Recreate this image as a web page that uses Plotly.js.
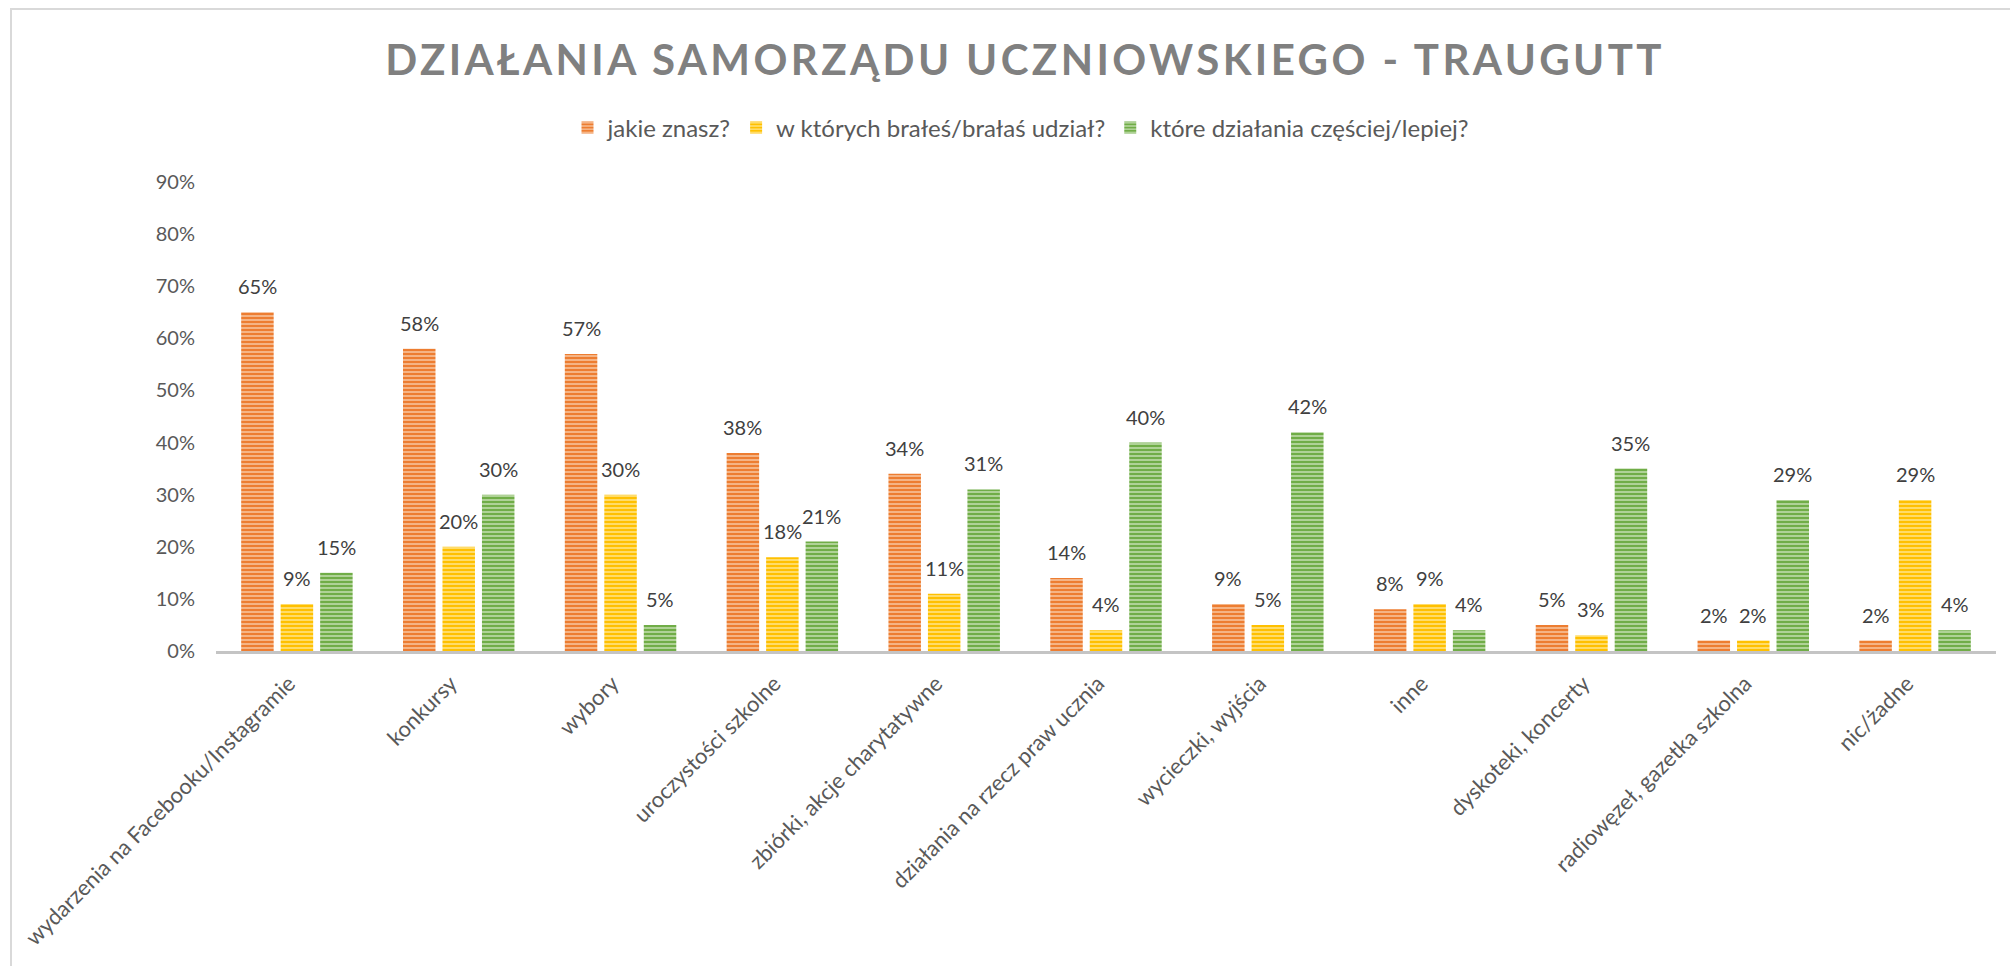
<!DOCTYPE html>
<html>
<head>
<meta charset="utf-8">
<script src="https://cdn.plot.ly/plotly-3.0.1.min.js"></script>
<style>
  html, body { margin: 0; padding: 0; background: #fff; overflow: hidden; }
  #chart { width: 2010px; height: 966px; position: absolute; left: 0; top: 0; }
  #frame { position: absolute; left: 10px; top: 8px; width: 2100px; height: 1100px;
           border-left: 2px solid #D9D9D9; border-top: 2px solid #D9D9D9; pointer-events: none; }
  .gtitle { letter-spacing: 3.4px; }
</style>
</head>
<body>
<div id="chart"></div>
<div id="frame"></div>
<script>
const categories = [
  "wydarzenia na Facebooku/Instagramie",
  "konkursy",
  "wybory",
  "uroczystości szkolne",
  "zbiórki, akcje charytatywne",
  "działania na rzecz praw ucznia",
  "wycieczki, wyjścia",
  "inne",
  "dyskoteki, koncerty",
  "radiowęzeł, gazetka szkolna",
  "nic/żadne"
];
const seriesNames = ["jakie znasz?", "w których brałeś/brałaś udział?", "które działania częściej/lepiej?"];
const jakieZnasz   = [0.65, 0.58, 0.57, 0.38, 0.34, 0.14, 0.09, 0.08, 0.05, 0.02, 0.02];
const wKtorych     = [0.09, 0.20, 0.30, 0.18, 0.11, 0.04, 0.05, 0.09, 0.03, 0.02, 0.29];
const ktoreLepiej  = [0.15, 0.30, 0.05, 0.21, 0.31, 0.40, 0.42, 0.04, 0.35, 0.29, 0.04];
const yTicks = [0, 0.1, 0.2, 0.3, 0.4, 0.5, 0.6, 0.7, 0.8, 0.9];

const seriesValues = [jakieZnasz, wKtorych, ktoreLepiej];
const mainColors  = ["#ED7D31", "#FFC000", "#70AD47"];
const stripeColors = ["#FAD3B8", "#FFEBA6", "#D3E8C6"];

const FONT = "Lato, 'Open Sans', sans-serif";
const margin = {l: 216, r: 14, t: 182, b: 315};
const bargap = 0.268, bargroupgap = 0.177;

const traces = seriesValues.map((vals, i) => ({
  type: "bar",
  name: seriesNames[i],
  x: categories,
  y: vals,
  marker: {
    color: mainColors[i],
    line: {width: 0},
    pattern: {shape: "-", fgcolor: stripeColors[i], fgopacity: 0.9, size: 4, solidity: 0.35, fillmode: "overlay"}
  },
  hoverinfo: "x+y"
}));

// label offsets derived from bar slot widths
const plotW = 2010 - margin.l - margin.r;
const slot = plotW / categories.length * (1 - bargap) / seriesValues.length;
const annotations = [];
seriesValues.forEach((vals, si) => {
  vals.forEach((v, ci) => {
    annotations.push({
      xref: "x", yref: "y",
      x: categories[ci], y: v,
      xshift: (si - 1) * slot,
      yshift: 12,
      yanchor: "bottom",
      text: Math.round(v * 100) + "%",
      showarrow: false,
      font: {family: FONT, size: 20, color: "#404040"}
    });
  });
});

const layout = {
  width: 2010, height: 966,
  margin: margin,
  paper_bgcolor: "rgba(0,0,0,0)",
  plot_bgcolor: "rgba(0,0,0,0)",
  barmode: "group",
  bargap: bargap,
  bargroupgap: bargroupgap,
  title: {
    text: "DZIAŁANIA SAMORZĄDU UCZNIOWSKIEGO - TRAUGUTT",
    font: {family: FONT, size: 42, color: "#808080", weight: "bold"},
    x: 0.51, xanchor: "center", xref: "container",
    y: 1 - 60 / 966, yanchor: "middle", yref: "container"
  },
  showlegend: true,
  legend: {
    orientation: "h",
    x: 1021 / 2010, xanchor: "center", xref: "container",
    y: 1 - 128 / 966, yanchor: "middle", yref: "container",
    font: {family: FONT, size: 24, color: "#595959"},
    itemwidth: 30,
    traceorder: "normal"
  },
  xaxis: {
    type: "category",
    showline: true, linecolor: "#C4C4C4", linewidth: 3,
    showgrid: false, zeroline: false, ticks: "",
    tickangle: -45,
    ticklabelshift: -8,
    ticklabelstandoff: 8,
    tickfont: {family: FONT, size: 22, color: "#595959"}
  },
  yaxis: {
    range: [0, 0.9],
    tickvals: yTicks,
    tickformat: ".0%",
    showgrid: false, zeroline: false, showline: false, ticks: "",
    ticklabelstandoff: 20,
    tickfont: {family: FONT, size: 20, color: "#595959"}
  },
  annotations: annotations
};

Plotly.newPlot("chart", traces, layout, {displayModeBar: false, staticPlot: true});
</script>
</body>
</html>
